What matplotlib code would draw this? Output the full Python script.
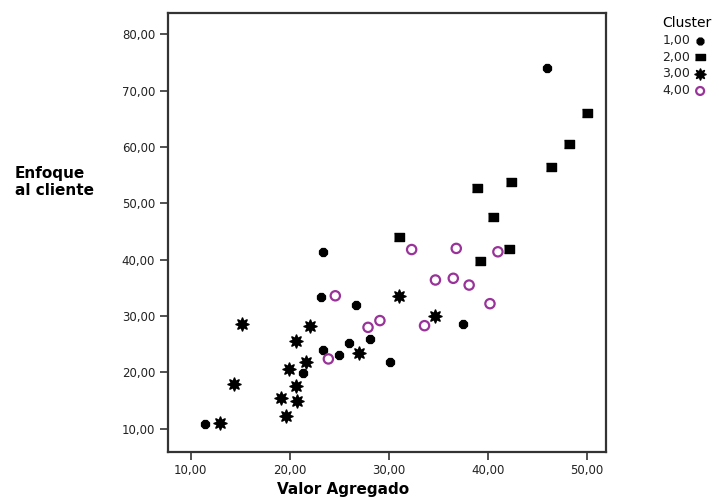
import matplotlib.pyplot as plt
from matplotlib.ticker import FuncFormatter

plt.rcParams['font.family'] = ['DejaVu Sans']

# Cluster data (Valor Agregado, Enfoque al cliente)
c1_x = [46.0, 23.4, 23.2, 26.7, 26.0, 28.1, 23.4, 25.0, 30.1, 21.3, 11.5, 37.5]
c1_y = [74.0, 41.3, 33.4, 31.9, 25.3, 26.0, 23.9, 23.1, 21.8, 19.9, 10.8, 28.6]

c2_x = [50.0, 48.2, 46.4, 42.3, 38.9, 40.5, 42.1, 31.0, 39.2]
c2_y = [66.1, 60.5, 56.5, 53.8, 52.7, 47.6, 41.9, 44.0, 39.8]

c3_x = [15.2, 22.0, 20.6, 21.6, 19.9, 20.6, 14.4, 19.1, 20.7, 19.6, 13.0, 31.0, 27.0, 34.7]
c3_y = [28.6, 28.2, 25.5, 21.8, 20.6, 17.6, 17.9, 15.5, 14.9, 12.2, 11.1, 33.5, 23.4, 30.0]

c4_x = [32.3, 36.8, 41.0, 34.7, 36.5, 38.1, 40.2, 24.6, 29.1, 27.9, 33.6, 23.9]
c4_y = [41.8, 42.0, 41.4, 36.4, 36.7, 35.5, 32.2, 33.6, 29.2, 28.0, 28.3, 22.4]

labels = ['1,00', '2,00', '3,00', '4,00']
x_ticks = [10, 20, 30, 40, 50]
y_ticks = [10, 20, 30, 40, 50, 60, 70, 80]

fig = plt.figure(figsize=(7.19, 4.98), dpi=100)
ax = fig.add_axes([0.2333, 0.0924, 0.8428 - 0.2333, 0.9745 - 0.0924])

ax.scatter(c1_x, c1_y, marker='8', s=38, color='black', label=labels[0], zorder=3)
ax.scatter(c2_x, c2_y, marker=[(-1.4, -1), (1.4, -1), (1.4, 1), (-1.4, 1)], s=62,
           color='black', label=labels[1], zorder=3)
ax.scatter(c3_x, c3_y, marker=(8, 1, 0), s=85, color='black', linewidths=1.2,
           label=labels[2], zorder=3)
ax.scatter(c4_x, c4_y, marker='o', s=45, facecolors='none', edgecolors='#993399',
           linewidths=1.6, label=labels[3], zorder=3)

ax.set_xlim(7.7, 51.9)
ax.set_ylim(5.9, 83.8)
ax.set_xticks(x_ticks)
ax.set_yticks(y_ticks)
fmt = FuncFormatter(lambda v, p: ('%.2f' % v).replace('.', ','))
ax.xaxis.set_major_formatter(fmt)
ax.yaxis.set_major_formatter(fmt)
ax.tick_params(direction='out', length=6, width=1.2, colors='#333333',
               labelsize=8.5, labelcolor='#222222', pad=3)
for s in ax.spines.values():
    s.set_linewidth(1.6)
    s.set_color('#333333')

fig.text(343 / 719, 1 - 489 / 498, 'Valor Agregado', ha='center', va='center',
         fontsize=11, fontweight='bold')
fig.text(15 / 719, 1 - 182 / 498, 'Enfoque\nal cliente', ha='left', va='center',
         fontsize=11, fontweight='bold', linespacing=1.15)

leg = ax.legend(loc='upper left', bbox_to_anchor=(656 / 719, 1 - 10 / 498),
                bbox_transform=fig.transFigure, frameon=False, title='Cluster',
                markerfirst=False, fontsize=9, title_fontsize=10,
                handletextpad=0.3, labelspacing=0.3, borderpad=0,
                handlelength=1.0, markerscale=0.85)
leg._legend_box.align = 'left'
for t in leg.get_texts():
    t.set_color('#222222')

fig.savefig('out.png', dpi=100)
